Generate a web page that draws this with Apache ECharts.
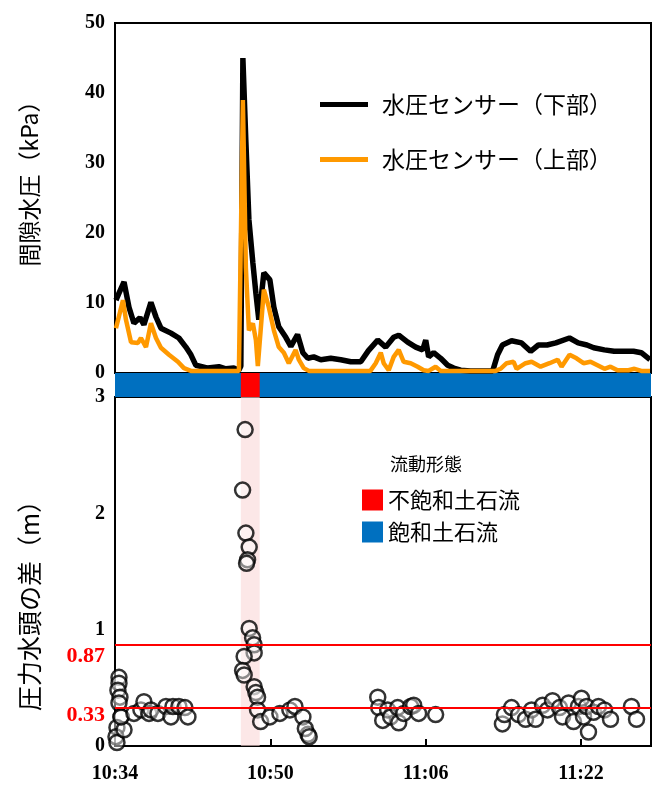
<!DOCTYPE html>
<html>
<head>
<meta charset="utf-8">
<script src="https://cdn.jsdelivr.net/npm/echarts@6/dist/echarts.min.js"></script>
<style>
html,body{margin:0;padding:0;background:#fff;}
#chart{width:657px;height:791px;}
</style>
</head>
<body>
<div id="chart"></div>
<script>
// ---- data (time in minutes after 10:34) ----
const startClock = [10, 34];
const xMaxMin = 55.2;
const xTickStep = 16;

// lower sensor (black)
const lowerT = [0.1,0.41,0.93,1.44,1.95,2.57,2.98,3.70,4.22,4.73,5.76,6.58,7.30,7.82,8.33,9.57,10.70,11.42,12.24,12.76,12.96,13.17,13.48,13.79,14.2,14.51,14.81,15.33,15.95,16.36,16.87,17.59,18.11,18.8,19.35,19.86,20.47,21.19,22.22,23.25,24.28,25.31,26.1,27.06,27.88,28.70,29.22,30.14,30.97,31.69,32.0,32.3,32.82,33.54,34.26,34.88,35.6,36.6,38.9,39.4,39.9,40.84,41.87,42.8,43.6,44.5,45.4,46.8,47.7,48.6,49.3,50.4,51.4,52.5,53.4,54.2,55.1];
const lowerV = [10.4,11.4,13.0,9.4,7.1,7.9,6.9,10.1,8.0,6.4,5.7,5.0,3.7,2.6,1.1,0.7,0.9,0.6,0.7,0.4,1.0,45.0,33.0,21.9,15.7,11.4,7.6,14.3,13.3,9.4,6.6,5.1,3.8,5.5,2.9,2.1,2.3,1.9,2.1,1.9,1.6,1.6,3.2,4.7,3.7,5.1,5.4,4.4,3.7,3.3,4.7,2.3,2.9,2.1,1.1,0.7,0.4,0.3,0.3,2.6,4.0,4.6,4.3,3.1,4.0,4.0,4.3,5.0,4.3,4.0,3.6,3.3,3.1,3.1,3.1,2.9,1.9];

// upper sensor (orange)
const upperT = [0.1,0.82,1.13,1.65,2.37,2.67,3.19,3.70,4.22,4.73,5.56,6.48,7.1,7.82,12.76,12.96,13.17,13.48,13.79,14.2,14.51,14.71,15.33,15.84,16.36,16.87,17.39,17.9,18.6,18.93,19.44,19.96,26.3,26.85,27.37,27.67,28.19,28.7,29.22,29.73,30.45,31.17,31.79,32.3,33.02,33.54,34.05,39.2,39.7,40.33,41.05,41.36,42.28,42.9,43.83,44.75,45.58,45.99,46.81,47.53,48.25,48.97,49.69,50.41,51.03,51.75,52.88,53.5,54.2,55.1];
const upperV = [6.4,10.4,7.6,4.4,4.3,5.0,3.7,7.1,5.0,3.6,2.6,1.6,0.7,0.3,0.3,0.5,39.0,15.0,6.1,7.1,4.7,1.0,11.9,9.4,6.1,3.7,2.9,1.4,3.3,1.9,0.7,0.3,0.3,1.4,2.9,1.4,0.4,2.3,3.3,1.6,1.4,0.9,0.4,0.3,0.9,0.3,0.3,0.3,0.6,1.4,1.6,0.6,1.4,1.6,0.9,1.4,1.9,0.9,2.6,2.1,1.4,1.6,1.1,0.6,0.9,0.4,0.4,0.6,0.3,0.3];

// head difference (circles)
const headT = [0.41,0.41,0.3,0.51,0.41,0.62,0.2,0.1,0.2,0.93,0.62,1.95,2.67,2.98,3.5,3.70,4.42,5.25,5.76,5.97,6.58,7.2,7.51,
  13.4,13.14,13.48,13.82,13.65,13.55,13.82,14.17,14.33,14.33,13.3,13.14,13.3,14.33,14.51,14.68,14.68,15.0,15.95,16.98,18.01,18.53,19.35,19.87,19.6,20.0,
  27.06,27.16,27.57,28.08,28.39,29.11,29.22,29.73,30.45,30.76,31.27,33.02,
  39.9,40.1,40.84,41.56,42.28,42.9,43.31,44.03,44.54,45.06,45.78,46.09,46.71,47.22,47.73,48.04,48.25,48.56,48.76,49.28,49.79,50.41,51.03,53.19,53.71];
const headV = [0.59,0.54,0.48,0.42,0.37,0.25,0.16,0.08,0.03,0.14,0.25,0.28,0.31,0.38,0.28,0.31,0.28,0.34,0.25,0.34,0.34,0.33,0.25,
  2.72,2.20,1.83,1.71,1.60,1.57,1.01,0.93,0.87,0.80,0.77,0.65,0.61,0.51,0.46,0.42,0.31,0.21,0.25,0.28,0.31,0.34,0.25,0.10,0.15,0.08,
  0.42,0.33,0.22,0.31,0.25,0.33,0.20,0.28,0.34,0.35,0.28,0.27,
  0.19,0.27,0.33,0.27,0.23,0.31,0.23,0.35,0.31,0.39,0.33,0.25,0.37,0.21,0.34,0.41,0.25,0.34,0.12,0.29,0.34,0.31,0.23,0.34,0.23];

const unsaturatedRange = [12.96, 14.9];
const thresholds = [0.87, 0.33];
const thresholdLabelShift = [12, 8];

const lowerName = '水圧センサー（下部）';
const upperName = '水圧センサー（上部）';
const unsatName = '不飽和土石流';
const satName = '飽和土石流';

// ---- build ----
const zip = (t, v) => t.map((x, i) => [x, v[i]]);
const clock = m => {
  const tot = startClock[0] * 60 + startClock[1] + Math.round(m);
  return Math.floor(tot / 60) + ':' + String(tot % 60).padStart(2, '0');
};

const serif = '"Liberation Serif","Times New Roman",serif';
const cjk = '"Noto Sans CJK JP","Noto Sans",sans-serif';

const chart = echarts.init(document.getElementById('chart'), null, {renderer: 'canvas'});

const L = 115, W = 536;
chart.setOption({
  backgroundColor: '#fff',
  animation: false,
  title: {
    text: '流動形態', left: 390, top: 455, padding: 0,
    textStyle: {fontFamily: cjk, fontSize: 18, fontWeight: 'normal', color: '#000'}
  },
  grid: [
    {left: L, top: 23, width: W, height: 350, show: true, borderColor: '#000', borderWidth: 2,
      backgroundColor: 'transparent', outerBoundsMode: 'none', containLabel: false},
    {left: L, top: 373, width: W, height: 24, show: false, outerBoundsMode: 'none', containLabel: false},
    {left: L, top: 397, width: W, height: 349, show: true, borderColor: '#000', borderWidth: 2,
      backgroundColor: 'transparent', outerBoundsMode: 'none', containLabel: false}
  ],
  xAxis: [0, 1, 2].map(i => ({
    type: 'value', gridIndex: i, min: 0, max: xMaxMin, interval: xTickStep,
    axisLine: {show: i === 2, lineStyle: {color: '#000', width: 2}},
    axisTick: {show: i === 2, inside: true, length: 7, lineStyle: {color: '#000', width: 2}},
    axisLabel: {show: i === 2, formatter: clock, margin: 18, color: '#000', showMaxLabel: false,
      fontFamily: serif, fontWeight: 'bold', fontSize: 20},
    splitLine: {show: false}
  })),
  yAxis: [
    {type: 'value', gridIndex: 0, min: 0, max: 50, interval: 10,
      name: '間隙水圧（kPa）', nameLocation: 'middle', nameGap: 74, nameRotate: 90,
      nameTextStyle: {fontFamily: cjk, fontSize: 23, color: '#000', padding: [0, 0, 0, 40]},
      axisLine: {show: true, lineStyle: {color: '#000', width: 2}},
      axisTick: {show: false},
      axisLabel: {color: '#000', fontFamily: serif, fontWeight: 'bold', fontSize: 20, margin: 10},
      splitLine: {show: false}},
    {type: 'value', gridIndex: 1, min: 0, max: 1, show: false},
    {type: 'value', gridIndex: 2, min: 0, max: 3, interval: 1,
      name: '圧力水頭の差（m）', nameLocation: 'middle', nameGap: 73, nameRotate: 90,
      nameTextStyle: {fontFamily: cjk, fontSize: 25, color: '#000', padding: [0, 56, 0, 0]},
      axisLine: {show: true, lineStyle: {color: '#000', width: 2}},
      axisTick: {show: false},
      axisLabel: {color: '#000', fontFamily: serif, fontWeight: 'bold', fontSize: 20, margin: 10},
      splitLine: {show: false}}
  ],
  legend: [
    {data: [lowerName, upperName], orient: 'vertical', left: 315, top: 88, icon: 'rect',
      itemWidth: 48, itemHeight: 5, itemGap: 32,
      textStyle: {fontFamily: cjk, fontSize: 23, color: '#000', padding: [0, 0, 0, 9]}},
    {data: [unsatName, satName], orient: 'vertical', left: 357, top: 484,
      itemWidth: 21, itemHeight: 21, itemGap: 10, icon: 'rect',
      textStyle: {fontFamily: cjk, fontSize: 22, color: '#000', padding: [0, 0, 0, 0]}}
  ],
  series: [
    {name: satName, type: 'line', xAxisIndex: 1, yAxisIndex: 1, data: [[0, 0.5]],
      showSymbol: false, symbol: 'none', lineStyle: {width: 0}, itemStyle: {color: '#0070C0'}, silent: true,
      markArea: {silent: true, itemStyle: {color: '#0070C0'},
        data: [[{xAxis: 0}, {xAxis: xMaxMin}]]}},
    {name: unsatName, type: 'line', xAxisIndex: 1, yAxisIndex: 1, data: [[0, 0.5]],
      showSymbol: false, symbol: 'none', lineStyle: {width: 0}, itemStyle: {color: '#FF0000'}, silent: true, z: 3,
      markArea: {silent: true, itemStyle: {color: '#FF0000'},
        data: [[{xAxis: unsaturatedRange[0]}, {xAxis: unsaturatedRange[1]}]]}},
    {name: lowerName, type: 'line', xAxisIndex: 0, yAxisIndex: 0, data: zip(lowerT, lowerV),
      symbol: 'none', lineStyle: {color: '#000', width: 5.5}, itemStyle: {color: '#000'}, z: 4},
    {name: upperName, type: 'line', xAxisIndex: 0, yAxisIndex: 0, data: zip(upperT, upperV),
      symbol: 'none', lineStyle: {color: '#FF9900', width: 4.5}, itemStyle: {color: '#FF9900'}, z: 5},
    {name: 'head', type: 'scatter', xAxisIndex: 2, yAxisIndex: 2, data: zip(headT, headV),
      symbol: 'circle', symbolSize: 15,
      itemStyle: {color: 'rgba(255,255,255,0.55)', borderColor: '#000', borderWidth: 2.5},
      z: 4,
      markArea: {silent: true, itemStyle: {color: 'rgba(250,215,215,0.6)'},
        data: [[{xAxis: unsaturatedRange[0]}, {xAxis: unsaturatedRange[1]}]]},
      markLine: {silent: true, symbol: ['none', 'none'],
        lineStyle: {color: '#FF0000', width: 2, type: 'solid'},
        label: {position: 'start', distance: 10, color: '#FF0000', fontFamily: serif, fontWeight: 'bold', fontSize: 22,
          formatter: p => p.value.toFixed(2)},
        data: thresholds.map((v, i) => ({yAxis: v, label: {offset: [0, thresholdLabelShift[i]]}}))}}
  ]
});
</script>
</body>
</html>
